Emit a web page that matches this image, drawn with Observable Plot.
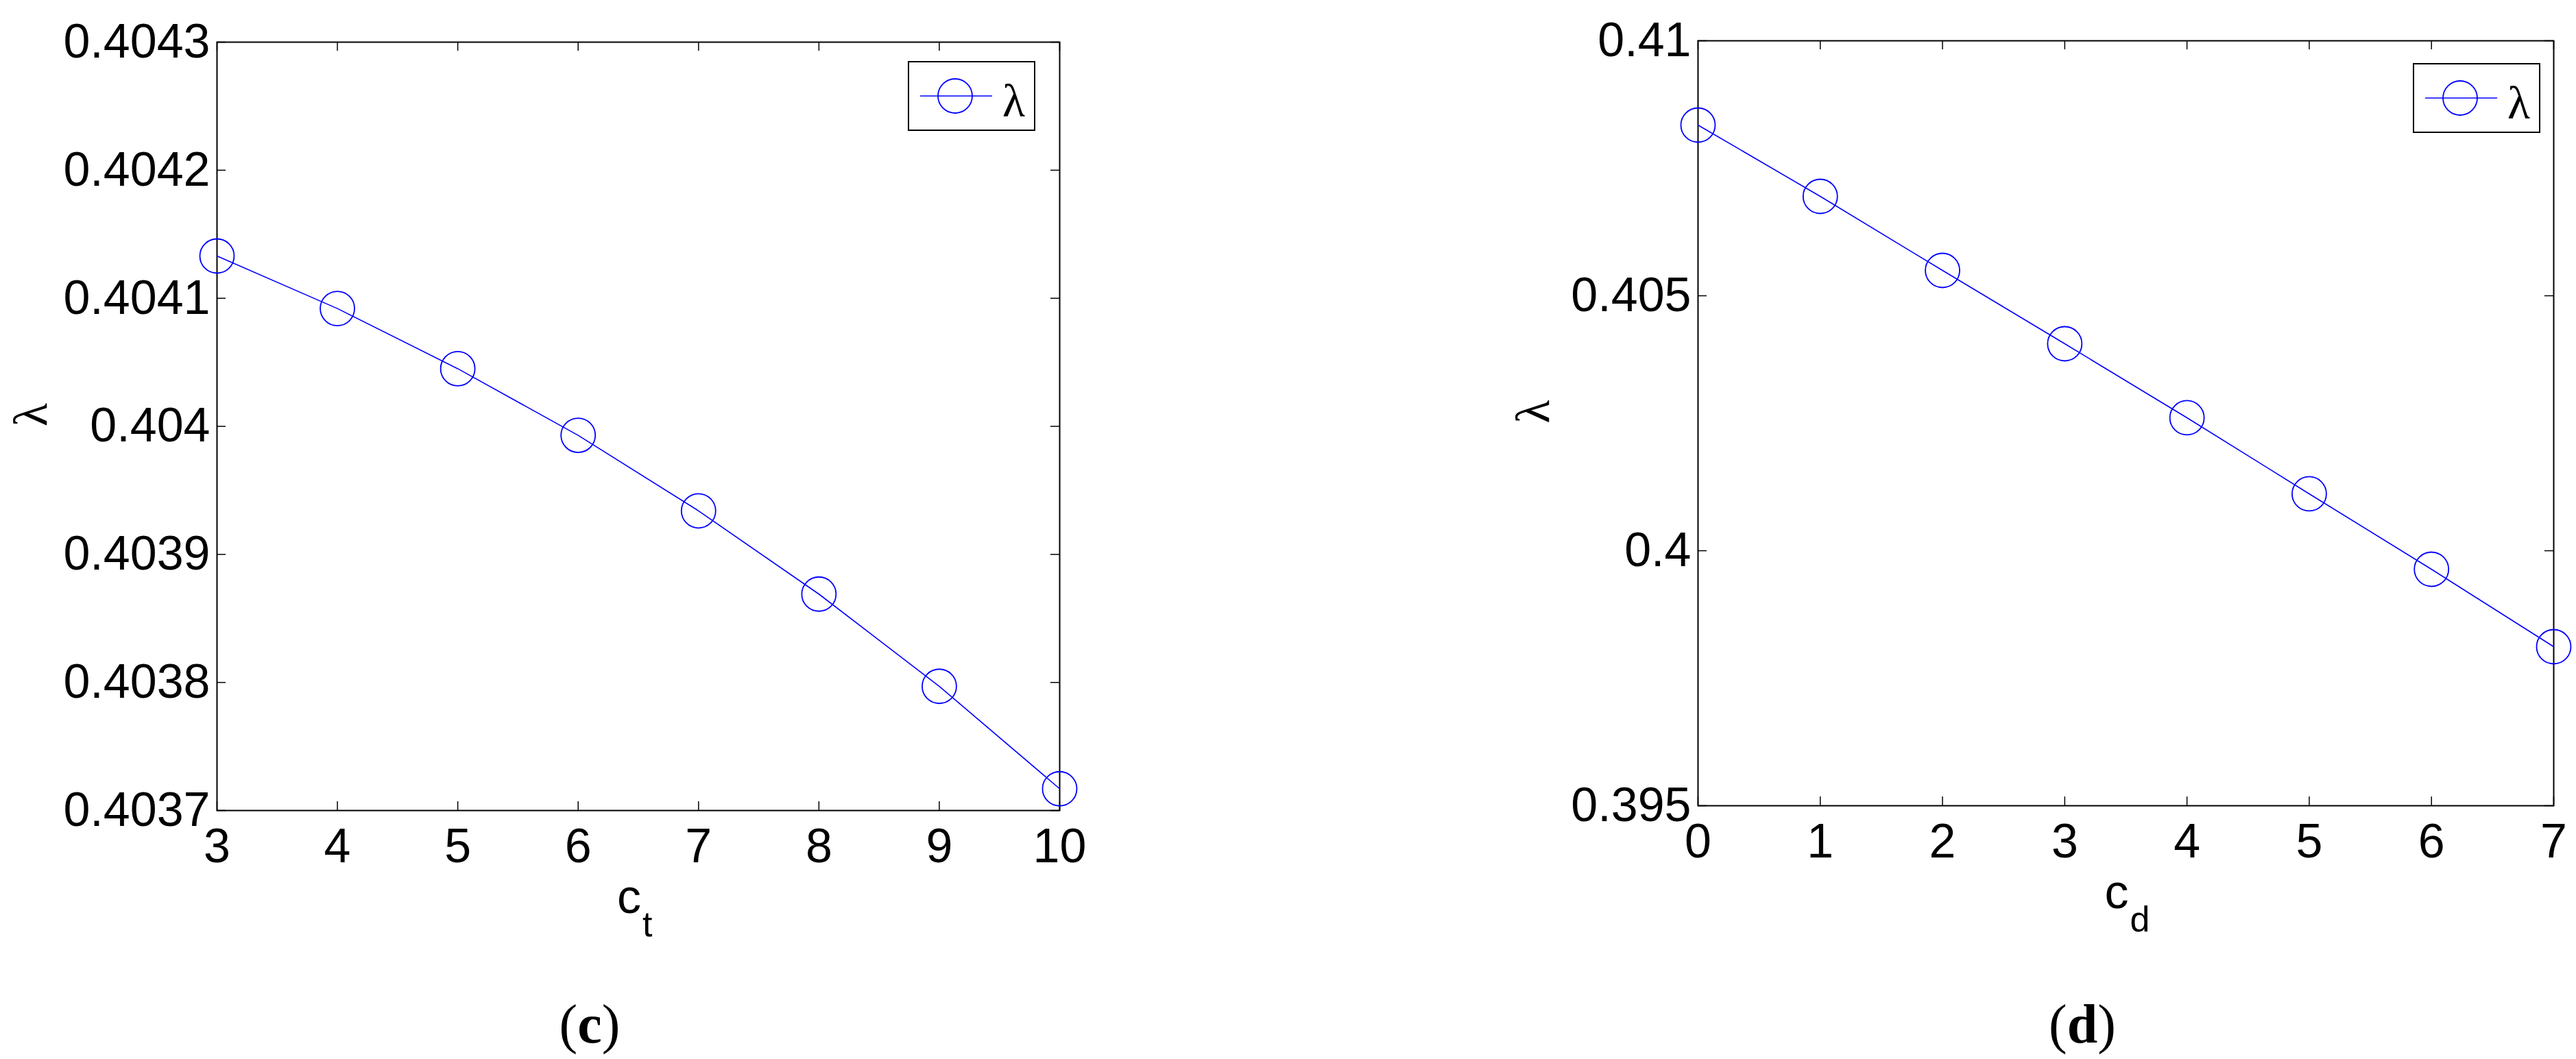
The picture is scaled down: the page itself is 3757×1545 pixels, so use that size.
<!DOCTYPE html>
<html>
<head>
<meta charset="utf-8">
<script src="https://cdn.jsdelivr.net/npm/d3@7"></script>
<script src="https://cdn.jsdelivr.net/npm/@observablehq/plot@0.6"></script>
<style>
  html, body { margin: 0; padding: 0; background: #fff; }
  #page { position: relative; width: 3757px; height: 1545px; overflow: hidden; background: #fff; }
  .panel { position: absolute; top: 0; }
  .caption { position: absolute; font-family: "Liberation Serif", "Times New Roman", serif; font-size: 80px; line-height: 80px; color: #000; white-space: nowrap; transform: translateX(-50%); }
  .legend { position: absolute; }
</style>
</head>
<body>
<div id="page"></div>
<script>
// ---- data ----
const ctX = [3, 4, 5, 6, 7, 8, 9, 10];
const ctLambda = [0.404133, 0.404092, 0.404045, 0.403993, 0.403934, 0.403869, 0.403797, 0.403717];
const cdX = [0, 1, 2, 3, 4, 5, 6, 7];
const cdLambda = [0.408347, 0.406949, 0.405497, 0.404059, 0.402608, 0.401116, 0.399637, 0.398118];
const ctXTicks = [3, 4, 5, 6, 7, 8, 9, 10];
const ctYTicks = [0.4037, 0.4038, 0.4039, 0.404, 0.4041, 0.4042, 0.4043];
const cdXTicks = [0, 1, 2, 3, 4, 5, 6, 7];
const cdYTicks = [0.395, 0.4, 0.405, 0.41];
const seriesName = "λ";
const panelTags = ["c", "d"];
const xTitles = [["c", "t"], ["c", "d"]];

const BLUE = "#0000ff";
const page = document.getElementById("page");

function panel(cfg) {
  const data = cfg.xs.map((x, i) => ({x, y: cfg.ys[i]}));
  const iw = cfg.w - cfg.ml - cfg.mr;
  const ih = cfg.h - cfg.mt - cfg.mb;
  const tickLen = 13;
  const fmt = d => String(+d.toFixed(cfg.decimals));
  const svg = Plot.plot({
    width: cfg.w, height: cfg.h,
    marginLeft: cfg.ml, marginTop: cfg.mt, marginRight: cfg.mr, marginBottom: cfg.mb,
    style: {fontFamily: '"Liberation Sans", Arial, sans-serif', color: "#000", background: "transparent", overflow: "visible"},
    x: {domain: [cfg.xTicks[0], cfg.xTicks[cfg.xTicks.length - 1]], label: null},
    y: {domain: [cfg.yTicks[0], cfg.yTicks[cfg.yTicks.length - 1]], label: null},
    marks: [
      Plot.axisX({anchor: "bottom", ticks: cfg.xTicks, tickSize: 0, tickPadding: 26, fontSize: 70, label: null, tickFormat: d => String(d)}),
      Plot.axisY({anchor: "left", ticks: cfg.yTicks, tickSize: 0, tickPadding: 10, fontSize: 70, label: null, tickFormat: fmt}),
      Plot.tickX(cfg.xTicks, {x: d => d, insetTop: ih - tickLen, stroke: "#000", strokeWidth: 1.5}),
      Plot.tickX(cfg.xTicks, {x: d => d, insetBottom: ih - tickLen, stroke: "#000", strokeWidth: 1.5}),
      Plot.tickY(cfg.yTicks, {y: d => d, insetRight: iw - tickLen, stroke: "#000", strokeWidth: 1.5}),
      Plot.tickY(cfg.yTicks, {y: d => d, insetLeft: iw - tickLen, stroke: "#000", strokeWidth: 1.5}),
      Plot.frame({stroke: "#000", strokeWidth: 2}),
      Plot.line(data, {x: "x", y: "y", stroke: BLUE, strokeWidth: 1.6}),
      Plot.dot(data, {x: "x", y: "y", r: 25, stroke: BLUE, strokeWidth: 1.8, fill: "none"}),
      Plot.text([cfg.xTitle[0]], {frameAnchor: "bottom", text: d => d, fontSize: 70, textAnchor: "end", lineAnchor: "bottom", dx: 4, dy: 149}),
      Plot.text([cfg.xTitle[1]], {frameAnchor: "bottom", text: d => d, fontSize: 52, textAnchor: "start", lineAnchor: "bottom", dx: 6, dy: 183}),
      Plot.text([seriesName], {frameAnchor: "left", text: d => d, rotate: -90, fontSize: 70, fontFamily: '"Liberation Serif", "Times New Roman", serif', dx: cfg.ylabDx})
    ]
  });
  svg.classList.add("panel");
  svg.style.left = cfg.left + "px";
  page.appendChild(svg);

  // legend box
  const lg = document.createElement("div");
  lg.className = "legend";
  lg.style.left = cfg.legend[0] + "px";
  lg.style.top = cfg.legend[1] + "px";
  lg.innerHTML = `<svg width="186" height="102" xmlns="http://www.w3.org/2000/svg">
    <rect x="1" y="1" width="184" height="100" fill="#fff" stroke="#000" stroke-width="2"/>
    <line x1="18" x2="123" y1="51" y2="51" stroke="${BLUE}" stroke-width="1.6"/>
    <circle cx="69" cy="51" r="25" fill="none" stroke="${BLUE}" stroke-width="1.8"/>
    <text x="138" y="81" font-family="Liberation Serif, Times New Roman, serif" font-size="68" fill="#000">${seriesName}</text>
  </svg>`;
  page.appendChild(lg);

  // panel caption
  const cap = document.createElement("div");
  cap.className = "caption";
  cap.style.left = cfg.capX + "px";
  cap.style.top = "1454px";
  cap.innerHTML = `(<b>${cfg.tag}</b>)`;
  page.appendChild(cap);
}

panel({
  xs: ctX, ys: ctLambda, xTicks: ctXTicks, yTicks: ctYTicks, decimals: 4,
  xTitle: xTitles[0], tag: panelTags[0],
  left: 0, w: 1625, h: 1402, ml: 316, mt: 61, mr: 80, mb: 220,
  ylabDx: -271, legend: [1324, 89], capX: 860
});
panel({
  xs: cdX, ys: cdLambda, xTicks: cdXTicks, yTicks: cdYTicks, decimals: 3,
  xTitle: xTitles[1], tag: panelTags[1],
  left: 2000, w: 1757, h: 1395, ml: 476, mt: 59, mr: 33, mb: 220,
  ylabDx: -240, legend: [3519, 92], capX: 3037
});
</script>
</body>
</html>
